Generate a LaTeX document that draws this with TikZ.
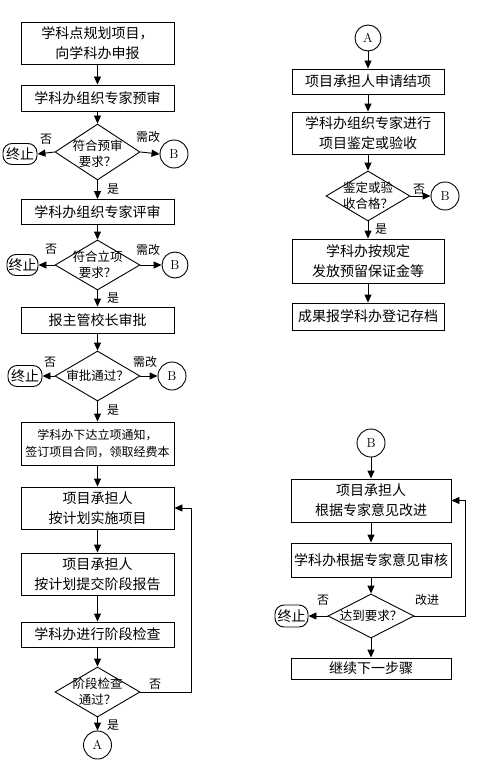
\documentclass[tikz,border=0pt]{standalone}
\usepackage{fontspec}
\newfontfamily\cjk{Noto Sans CJK SC}
\usetikzlibrary{shapes.geometric,arrows.meta}
\begin{document}
\begin{tikzpicture}[x=1bp,y=-1bp,
  line width=0.9bp,
  box/.style={draw, rectangle, inner sep=0pt, align=center, font=\cjk\fontsize{14bp}{20bp}\selectfont},
  lbox/.style={box, minimum width=153bp},
  rbox/.style={box, minimum width=152bp},
  bbox/.style={box, minimum width=160bp},
  dia/.style={draw, diamond, inner sep=0pt, minimum width=85bp, minimum height=50bp},
  diatext/.style={align=center, inner sep=0pt, font=\cjk\fontsize{12.5bp}{16bp}\selectfont},
  term/.style={draw, rectangle, rounded corners=9bp, inner sep=0pt, minimum width=34bp, minimum height=21bp, font=\cjk\fontsize{14bp}{16bp}\selectfont},
  conn/.style={draw, circle, inner sep=0pt, minimum size=28bp, font=\fontsize{13bp}{14bp}\selectfont},
  lab/.style={inner sep=0pt, font=\cjk\fontsize{12bp}{14bp}\selectfont},
  arr/.style={-{Triangle[length=8bp,width=7bp]}}
]
\useasboundingbox (0,0) rectangle (499,772);

% ---------- left column ----------
\node[lbox, minimum height=42bp] (p1) at (97.5,43) {学科点规划项目，\\向学科办申报};
\node[lbox, minimum height=26bp] (p2) at (97.5,98) {学科办组织专家预审};
\node[dia, minimum height=56bp] (d1) at (97.5,152) {};
\node[diatext] (d1t) at (97.5,154) {符合预审\\要求？};
\node[term] (t1) at (20,154) {终止};
\node[conn] (b1) at (174,154) {B};
\node[lab] (n1) at (46,139) {否};
\node[lab] (x1) at (148,137) {需改};
\node[lab] (y1) at (113,189) {是};

\node[lbox, minimum height=25bp] (p3) at (97.5,212) {学科办组织专家评审};
\node[dia] (d2) at (97.5,265) {};
\node[diatext] (d2t) at (97.5,265) {符合立项\\要求？};
\node[term, minimum width=31bp] (t2) at (22.5,265) {终止};
\node[conn, minimum size=26bp] (b2) at (175,265) {B};
\node[lab] (n2) at (51,249) {否};
\node[lab] (x2) at (148,250) {需改};
\node[lab] (y2) at (113,298) {是};

\node[lbox, minimum height=26bp] (p4) at (97.5,320) {报主管校长审批};
\node[dia] (d3) at (97.5,376) {};
\node[diatext] (d3t) at (97.5,376) {审批通过？};
\node[term] (t3) at (25,376) {终止};
\node[conn] (b3) at (172,376) {B};
\node[lab] (n3) at (50,362) {否};
\node[lab] (x3) at (145,362) {需改};
\node[lab] (y3) at (113,410) {是};

\node[lbox, minimum height=43bp, font=\cjk\fontsize{12bp}{17bp}\selectfont] (p5) at (97.5,443.5) {学科办下达立项通知，\\签订项目合同，领取经费本};
\node[lbox, minimum height=42bp] (p6) at (97.5,508) {项目承担人\\按计划实施项目};
\node[lbox, minimum height=42bp] (p7) at (97.5,574) {项目承担人\\按计划提交阶段报告};
\node[lbox, minimum height=25bp] (p8) at (97.5,634.5) {学科办进行阶段检查};
\node[dia] (d4) at (97.5,692) {};
\node[diatext] (d4t) at (97.5,692) {阶段检查\\通过？};
\node[lab] (n4) at (155,684) {否};
\node[lab] (y4) at (113,725) {是};
\node[conn] (a1) at (97.5,745) {A};
\coordinate (loop1) at (191,508);

\draw[arr] (p1) -- (p2);
\draw[arr] (p2) -- (d1);
\draw[arr] (d1) -- (p3);
\draw[arr] (d1.west) -- (t1.east);
\draw[arr] (d1.east) -- (b1.west);
\draw[arr] (p3) -- (d2);
\draw[arr] (d2) -- (p4);
\draw[arr] (d2.west) -- (t2.east);
\draw[arr] (d2.east) -- (b2.west);
\draw[arr] (p4) -- (d3);
\draw[arr] (d3) -- (p5);
\draw[arr] (d3.west) -- (t3.east);
\draw[arr] (d3.east) -- (b3.west);
\draw[arr] (p5) -- (p6);
\draw[arr] (p6) -- (p7);
\draw[arr] (p7) -- (p8);
\draw[arr] (p8) -- (d4);
\draw[arr] (d4) -- (a1);
\draw[arr] (d4.east) -| (loop1) -- (p6.east);

% ---------- right column, top ----------
\node[conn, minimum size=26bp] (a2) at (368,38) {A};
\node[rbox, minimum height=25bp] (r1) at (368,81.5) {项目承担人申请结项};
\node[rbox, minimum height=42bp] (r2) at (368,133) {学科办组织专家进行\\项目鉴定或验收};
\node[dia, minimum width=84bp] (dr) at (368,196) {};
\node[diatext] (drt) at (368,196) {鉴定或验\\收合格？};
\node[conn] (b4) at (445,196) {B};
\node[lab] (n5) at (419,189) {否};
\node[lab] (y5) at (381,229) {是};
\node[rbox, minimum height=44bp] (r3) at (368,261) {学科办按规定\\发放预留保证金等};
\node[rbox, minimum height=27bp] (r4) at (368,316.5) {成果报学科办登记存档};

\draw[arr] (a2) -- (r1);
\draw[arr] (r1) -- (r2);
\draw[arr] (r2) -- (dr);
\draw[arr] (dr) -- (r3);
\draw[arr] (dr.east) -- (b4.west);
\draw[arr] (r3) -- (r4);

% ---------- right column, bottom ----------
\node[conn] (b5) at (371,443) {B};
\node[bbox, minimum height=43bp] (s1) at (371,500.5) {项目承担人\\根据专家意见改进};
\node[bbox, minimum height=34bp] (s2) at (371,560) {学科办根据专家意见审核};
\node[dia, minimum width=86bp, minimum height=44bp] (ds) at (371,616) {};
\node[diatext] (dst) at (371,616) {达到要求？};
\node[term, minimum width=33bp, minimum height=22bp] (t4) at (291.5,616) {终止};
\node[lab] (n6) at (323,600) {否};
\node[lab] (x6) at (427,600) {改进};
\node[bbox, minimum height=21bp] (s3) at (371,668.5) {继续下一步骤};
\coordinate (loop2) at (465,500.5);

\draw[arr] (b5) -- (s1);
\draw[arr] (s1) -- (s2);
\draw[arr] (s2) -- (ds);
\draw[arr] (ds.west) -- (t4.east);
\draw[arr] (ds) -- (s3);
\draw[arr] (ds.east) -| (loop2) -- (s1.east);
\end{tikzpicture}
\end{document}
